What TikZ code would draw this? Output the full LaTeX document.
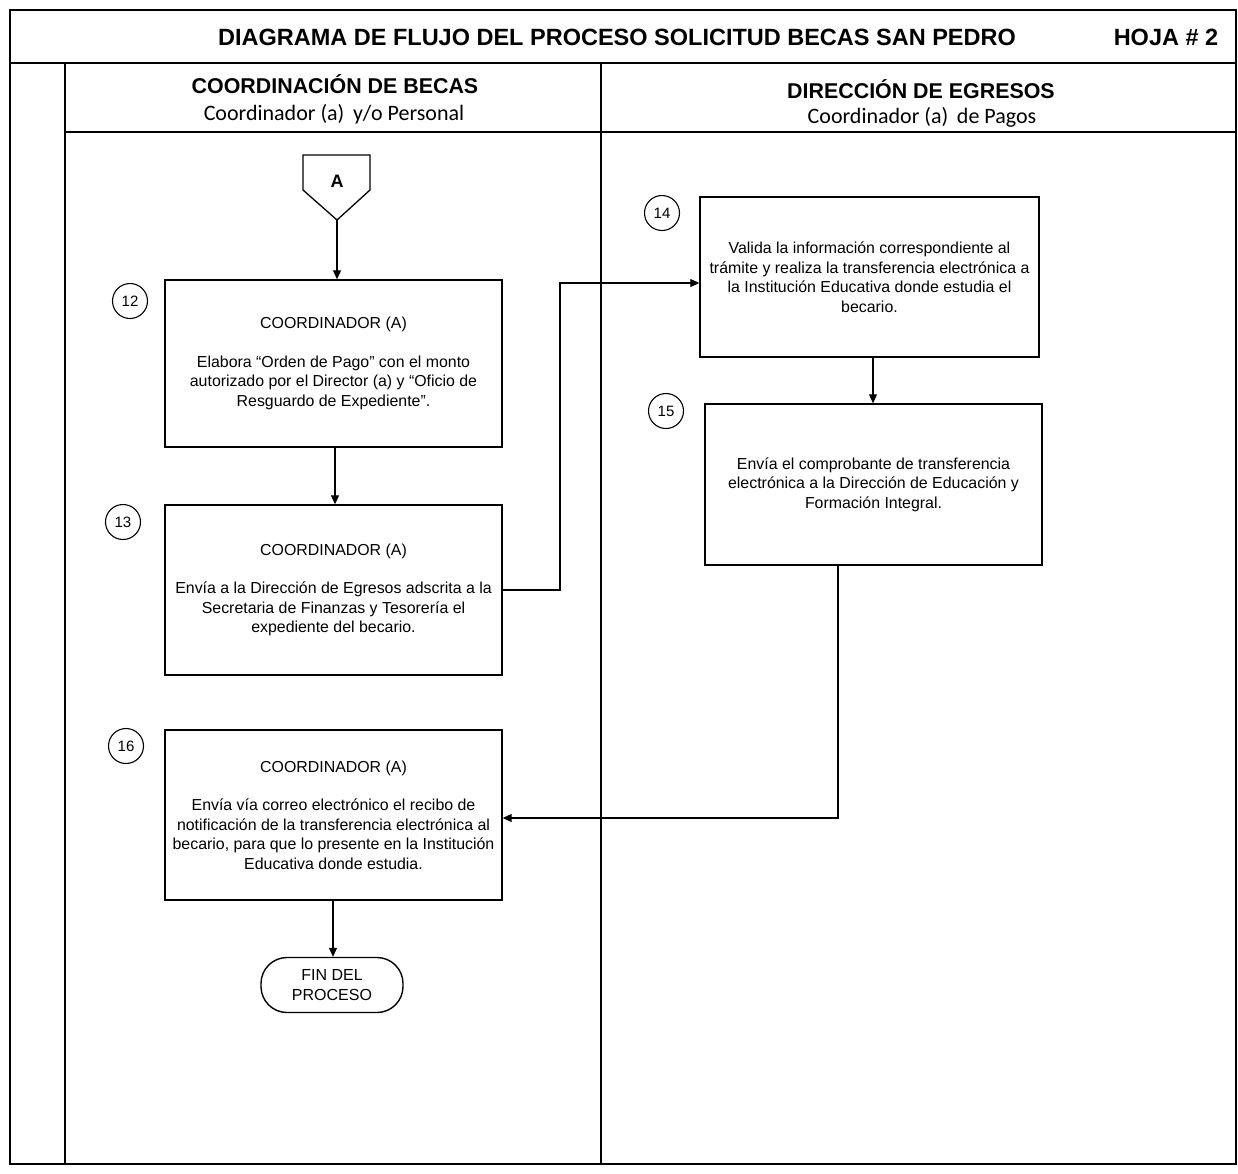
\documentclass[tikz,border=0pt]{standalone}
\usepackage{fontspec}
\setmainfont{Liberation Sans}
\newfontfamily\calib{Carlito}
\usetikzlibrary{arrows.meta}
\tikzset{
  frame/.style={line width=2pt},
  lane/.style={line width=1.2pt},
  box/.style={draw, line width=1.4pt, align=center, inner sep=0pt,
     font=\fontsize{15.9}{19.5}\selectfont},
  num/.style={draw, circle, line width=1.1pt, minimum size=35pt, inner sep=0pt,
     font=\fontsize{15}{15}\selectfont},
  flow/.style={line width=1.1pt, -{Triangle[length=9pt,width=8pt]}},
  term/.style={draw, line width=1.4pt, rounded corners=26pt, align=center,
     minimum width=142pt, minimum height=55pt, inner sep=0pt,
     font=\fontsize{16}{20}\selectfont},
  ttl/.style={font=\fontsize{23.5}{28}\selectfont\bfseries},
  lanehead/.style={anchor=base, font=\fontsize{21.4}{24}\selectfont\bfseries},
  lanesub/.style={anchor=base, font=\calib\fontsize{22}{24}\selectfont}
}
\begin{document}
\begin{tikzpicture}[x=1pt,y=-1pt]
\useasboundingbox (0,0) rectangle (1238,1173);
% frame
\draw[frame] (10,10) rectangle (1236,1164);
\draw[frame] (10,63) -- (1236,63);
\draw[frame] (65,132) -- (1236,132);
\draw[lane] (65,63) -- (65,1164);
\draw[lane] (601,63) -- (601,1164);
% titles
\node[ttl] (title) at (617,37) {DIAGRAMA DE FLUJO DEL PROCESO SOLICITUD BECAS SAN PEDRO};
\node[ttl] (hoja) at (1166,37) {HOJA \# 2};
\node[lanehead] (lh1) at (335,93) {COORDINACIÓN DE BECAS};
\node[lanesub] (ls1) at (334,120) {Coordinador (a)\, y/o Personal};
\node[lanehead] (lh2) at (921,98) {DIRECCIÓN DE EGRESOS};
\node[lanesub] (ls2) at (922,123) {Coordinador (a)\, de Pagos};
% off-page connector A
\draw[line width=1.3pt] (303,155) -- (370,155) -- (370,190) -- (337,220) -- (303,190) -- cycle;
\node[font=\fontsize{18}{18}\selectfont\bfseries] (A) at (337,181) {A};
\coordinate (Atip) at (337,220);
% boxes
\node[box, minimum width=337pt, minimum height=167pt] (b12) at (333.5,363.5)
  {COORDINADOR (A)\\[19pt]
   Elabora “Orden de Pago” con el monto\\
   autorizado por el Director (a) y “Oficio de\\
   Resguardo de Expediente”.};
\node[box, minimum width=337pt, minimum height=170pt] (b13) at (333.5,590)
  {COORDINADOR (A)\\[19pt]
   Envía a la Dirección de Egresos adscrita a la\\
   Secretaria de Finanzas y Tesorería el\\
   expediente del becario.};
\node[box, minimum width=339pt, minimum height=160pt] (b14) at (869.5,277)
  {Valida la información correspondiente al\\
   trámite y realiza la transferencia electrónica a\\
   la Institución Educativa donde estudia el\\
   becario.};
\node[box, minimum width=337pt, minimum height=161pt] (b15) at (873.5,484.5)
  {Envía el comprobante de transferencia\\
   electrónica a la Dirección de Educación y\\
   Formación Integral.};
\node[box, minimum width=337pt, minimum height=170pt] (b16) at (333.5,815)
  {COORDINADOR (A)\\[19pt]
   Envía vía correo electrónico el recibo de\\
   notificación de la transferencia electrónica al\\
   becario, para que lo presente en la Institución\\
   Educativa donde estudia.};
\node[term] (fin) at (332,985) {FIN DEL\\PROCESO};
% numbers
\node[num] (n12) at (130,301) {12};
\node[num] (n13) at (123,522) {13};
\node[num] (n14) at (662,213) {14};
\node[num] (n15) at (666,411) {15};
\node[num] (n16) at (126,746) {16};
% connectors
\draw[flow] (Atip) -- (b12.north -| Atip);
\draw[flow] (b12.south -| 335,0) -- (b13.north -| 335,0);
\coordinate (c13) at (560,590);
\draw[flow] (b13.east |- c13) -- (c13) -- (560,283) -- (b14.west |- 0,283);
\draw[flow] (b14.south -| 873,0) -- (b15.north -| 873,0);
\coordinate (c15) at (838,818);
\draw[flow] (b15.south -| c15) -- (c15) -- (b16.east |- c15);
\draw[flow] (b16.south -| 333,0) -- (fin.north -| 333,0);
\end{tikzpicture}
\end{document}
